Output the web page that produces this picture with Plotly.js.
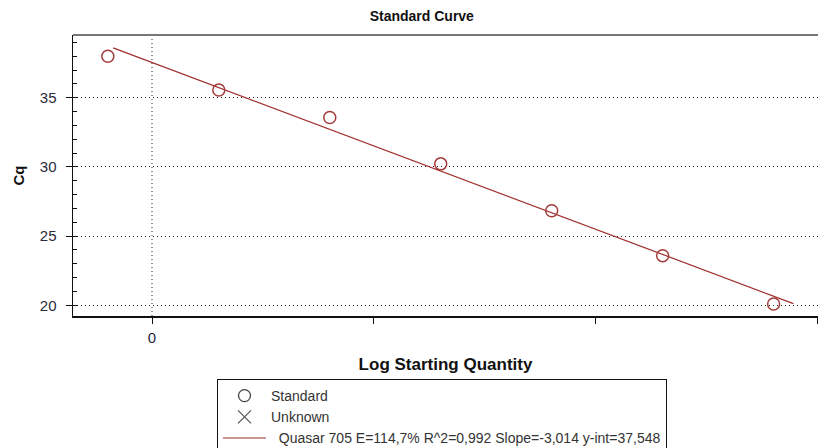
<!DOCTYPE html>
<html>
<head>
<meta charset="utf-8">
<script src="https://cdn.plot.ly/plotly-3.0.1.min.js"></script>
<style>html,body{margin:0;padding:0;background:#fff;}</style>
</head>
<body>
<div id="chart" style="width:819px;height:448px;"></div>
<script>
// Data
const logQty = [-0.398, 0.602, 1.602, 2.602, 3.602, 4.602, 5.602];
const cqValues = [38.0, 35.56, 33.57, 30.22, 26.83, 23.59, 20.1];
const fitSlope = -3.014;
const fitIntercept = 37.548;
const fitXStart = -0.35;
const fitXEnd = 5.78;
const xTickVals = [0, 2, 4, 6];
const xTickText = ['0', '', '', ''];
const yTickVals = [20, 25, 30, 35];
const legendStandard = 'Standard';
const legendUnknown = 'Unknown';
const legendFit = '\u00a0\u00a0Quasar 705 E=114,7% R^2=0,992 Slope=-3,014 y-int=37,548';

const fitX = [fitXStart, fitXEnd];
const fitY = fitX.map(x => fitIntercept + fitSlope * x);

const red = '#a33c3c';
const font = 'Arial, "Liberation Sans", sans-serif';

const traces = [
  {x: fitX, y: fitY, mode: 'lines', line: {color: '#a02c2c', width: 1.2},
   showlegend: false, hoverinfo: 'skip'},
  {x: logQty, y: cqValues, mode: 'markers',
   marker: {symbol: 'circle-open', size: 12, color: red, line: {width: 1.5, color: red}},
   showlegend: false},
  {x: [null], y: [null], mode: 'markers', name: legendStandard,
   marker: {symbol: 'circle-open', size: 12, color: '#444', line: {width: 1.3, color: '#444'}}},
  {x: [null], y: [null], mode: 'markers', name: legendUnknown,
   marker: {symbol: 'x-thin-open', size: 13, color: '#555', line: {width: 1.2, color: '#555'}}},
  {x: [null], y: [null], mode: 'lines', name: legendFit,
   line: {color: '#a02c2c', width: 1.2}}
];

const layout = {
  width: 819, height: 448,
  margin: {l: 73, r: 1, t: 35, b: 132, autoexpand: false},
  paper_bgcolor: '#fff', plot_bgcolor: '#fff',
  font: {family: font, color: '#333'},
  title: {text: '<b>Standard Curve</b>', font: {size: 14, color: '#111', family: font},
          xref: 'container', x: 0.515, xanchor: 'center', yref: 'container', y: 0.964, yanchor: 'middle'},
  xaxis: {
    range: [-0.712, 6.002], tickvals: xTickVals, ticktext: xTickText,
    showgrid: false, zeroline: false,
    showline: true, linecolor: '#111', linewidth: 1.5,
    ticks: 'outside', ticklen: 6, tickcolor: '#111', tickwidth: 1,
    ticklabelstandoff: 1,
    tickfont: {size: 15, color: '#2a2a3a'},
    title: {text: '<b>Log Starting Quantity</b>', font: {size: 17, color: '#111'}, standoff: 13}
  },
  yaxis: {
    range: [19.23, 39.53], tickvals: yTickVals,
    showgrid: true, gridcolor: '#222', gridwidth: 1, griddash: '1px,3px',
    zeroline: false,
    showline: true, linecolor: '#111', linewidth: 1.5,
    ticks: 'outside', ticklen: 6, tickcolor: '#111', tickwidth: 1,
    ticklabelstandoff: 6,
    tickfont: {size: 15, color: '#2a2a3a'},
    minor: {dtick: 1, ticks: 'inside', ticklen: 4, tickcolor: '#111', showgrid: false},
    title: {text: '<b>Cq</b>', font: {size: 15, color: '#111'}, standoff: 11}
  },
  shapes: [
    {type: 'line', xref: 'x', yref: 'paper', x0: 0, x1: 0, y0: 0, y1: 1,
     line: {color: '#222', width: 1, dash: '1px,3px'}, layer: 'below'},
    {type: 'line', xref: 'paper', yref: 'paper', x0: 0, x1: 1, y0: 1, y1: 1,
     line: {color: '#777', width: 2}}
  ],
  legend: {
    x: 0.1933, xanchor: 'left', y: -0.2242, yanchor: 'top',
    bordercolor: '#111', borderwidth: 1, bgcolor: '#fff',
    font: {size: 14, color: '#333'}, tracegroupgap: 0, itemwidth: 43
  },
  showlegend: true
};

Plotly.newPlot('chart', traces, layout, {displayModeBar: false, staticPlot: true});
</script>
</body>
</html>
